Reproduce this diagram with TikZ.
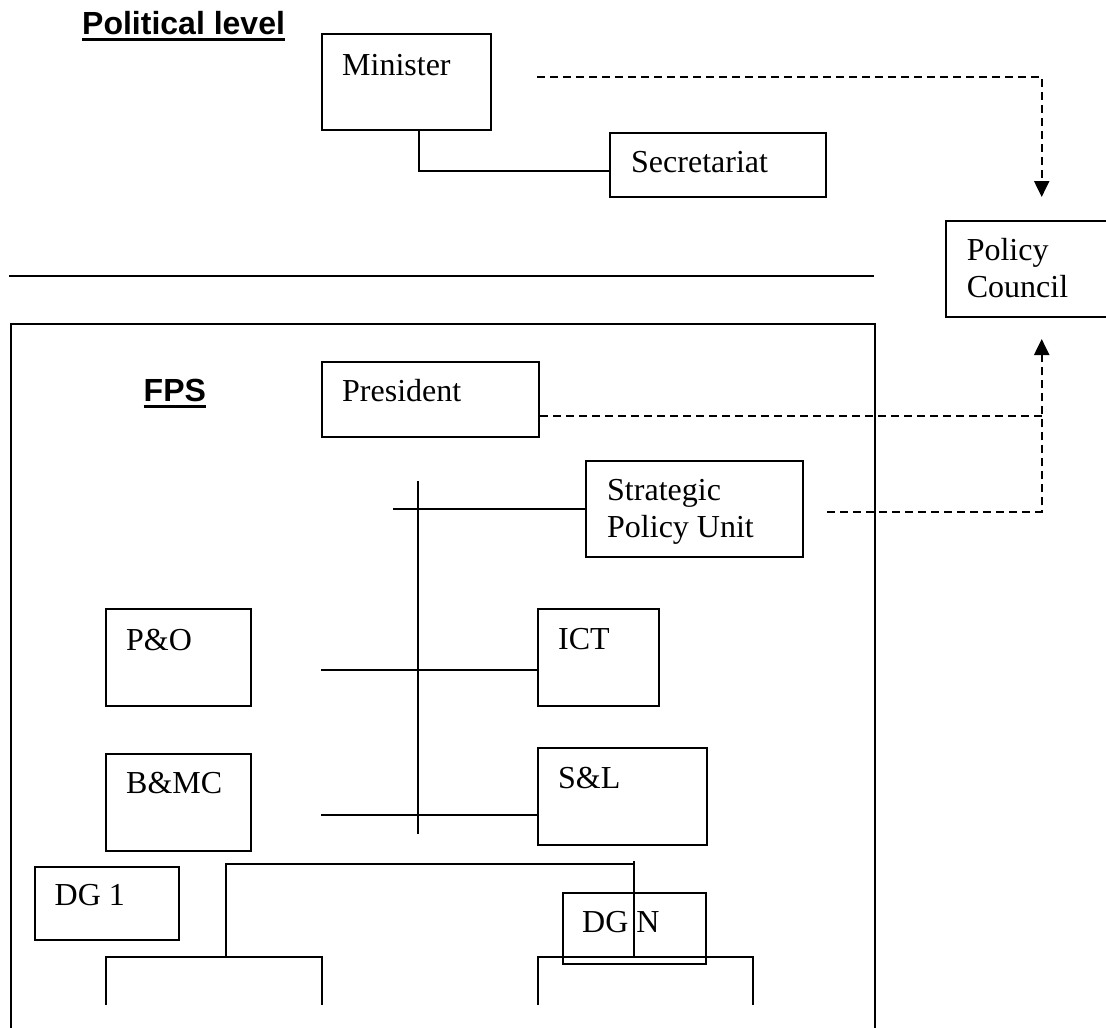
\documentclass[tikz,border=0pt]{standalone}
\usepackage{fontspec}
\setmainfont{Liberation Serif}
\newfontfamily\hsans{Liberation Sans}
\usetikzlibrary{arrows.meta}
\begin{document}
\begin{tikzpicture}[x=1pt,y=-1pt,
  box/.style={draw, line width=2pt, rectangle, inner sep=0pt, anchor=north west},
  txt/.style={font=\fontsize{32}{37}\selectfont, inner sep=0pt, anchor=base west},
  head/.style={font=\hsans\bfseries\fontsize{32}{37}\selectfont, inner sep=0pt, anchor=base west},
  conn/.style={line width=2pt},
  ul/.style={line width=3pt},
  dashlink/.style={line width=2.2pt, dash pattern=on 8pt off 5pt},
  arr/.style={-{Triangle[length=16pt,width=15pt]}}]
\useasboundingbox (0,0) rectangle (1106,1028);

% headings
\node[head] (pl) at (82,34.3) {Political level};
\draw[ul] ([yshift=-5pt]pl.base west) -- ([yshift=-5pt]pl.base east);

% boxes
\node[box, minimum width=169pt, minimum height=96pt] (min) at (321,33) {};
\node[txt] (tmin) at (342,75) {Minister};
\node[box, minimum width=216pt, minimum height=64pt] (sec) at (609,132) {};
\node[txt] (tsec) at (631,172.7) {Secretariat};
\node[box, minimum width=180pt, minimum height=96pt] (pc) at (945,220) {};
\node[txt] (tpc1) at (966.6,260) {Policy};
\node[txt] (tpc2) at (966.6,297.5) {Council};

% separator
\coordinate (hl1) at (9,276);
\coordinate (hl2) at (874,276);
\draw[conn] (hl1) -- (hl2);

% FPS frame
\node[box, minimum width=864pt, minimum height=740pt] (frame) at (9.5,322.7) {};
\node[head] (fps) at (143.5,401) {FPS};
\draw[ul] ([yshift=-5.7pt]fps.base west) -- ([yshift=-5.7pt]fps.base east);

\node[box, minimum width=217pt, minimum height=75pt] (pres) at (321,361) {};
\node[txt] (tpres) at (342,401) {President};
\node[box, minimum width=217pt, minimum height=96pt] (spu) at (585,460) {};
\node[txt] (tspu1) at (607,500) {Strategic};
\node[txt] (tspu2) at (607,537) {Policy Unit};
\node[box, minimum width=145pt, minimum height=97pt] (po) at (105,608) {};
\node[txt] (tpo) at (126,650) {P\&O};
\node[box, minimum width=121pt, minimum height=97pt] (ict) at (537,608) {};
\node[txt] (tict) at (558,649) {ICT};
\node[box, minimum width=145pt, minimum height=97pt] (bmc) at (105,753) {};
\node[txt] (tbmc) at (126,793) {B\&MC};
\node[box, minimum width=169pt, minimum height=97pt] (sl) at (537,747) {};
\node[txt] (tsl) at (558,788) {S\&L};
\node[box, minimum width=144pt, minimum height=73pt] (dg1) at (34,866) {};
\node[txt] (tdg1) at (54.5,905.7) {DG 1};
\node[box, minimum width=143pt, minimum height=71pt] (dgn) at (562,892) {};
\node[txt] (tdgn) at (582,932.7) {DG N};

% political connectors
\draw[conn] ([xshift=12pt]min.south) |- ([yshift=-6pt]sec.west);
\coordinate (d1) at (537,76.7);
\coordinate (vx) at (1041.7,0);
\draw[dashlink, arr, shorten >=23pt] (d1) -| (vx |- pc.north);

% dashed links to policy council
\coordinate (pd) at ([yshift=-16.5pt]pres.east);
\draw[dashlink] (pd) -- (vx |- pd);
\draw[dashlink, arr, shorten <=23pt, shorten >=21pt] ([yshift=-2.7pt]spu.east) -| (vx |- pc.south);

% spine
\coordinate (st) at (417.5,481);
\coordinate (sb) at (417.5,834);
\draw[conn] (st) -- (sb);
\coordinate (sx) at (393,0);
\draw[conn] (sx |- spu.west) -- (spu.west);
\coordinate (cl) at (321,0);
\coordinate (ictc) at ([yshift=-12.5pt]ict.west);
\draw[conn] (cl |- ictc) -- (ictc);
\coordinate (slc) at ([yshift=-18.5pt]sl.west);
\draw[conn] (cl |- slc) -- (slc);

% DG connector
\coordinate (ga) at (225.6,957);
\coordinate (gb) at (633.6,864);
\coordinate (gc) at (633.6,861);
\coordinate (gd) at (633.6,957);
\draw[conn] (ga) |- (gb);
\draw[conn] (gc) -- (gd);

% lower brackets
\coordinate (b1) at (106,1005);
\coordinate (b2) at (321.5,1005);
\coordinate (b3) at (537.6,1005);
\coordinate (b4) at (753,1005);
\draw[conn] (b1) -- ++(0,-48) -| (b2);
\draw[conn] (b3) -- ++(0,-48) -| (b4);
\end{tikzpicture}
\end{document}
